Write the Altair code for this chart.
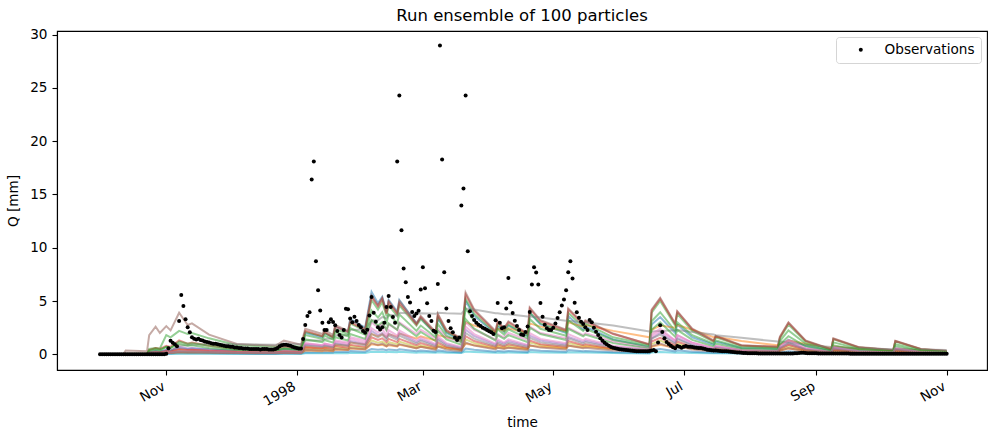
import altair as alt
import pandas as pd

# ---------------------------------------------------------------------------
# Observed discharge Q [mm], one value per day starting 1997-10-01
# ---------------------------------------------------------------------------
obs_1997_10 = [0.0, 0.0, 0.0, 0.0, 0.0, 0.0, 0.0, 0.0, 0.0, 0.0,
               0.0, 0.0, 0.0, 0.0, 0.0, 0.0, 0.0, 0.0, 0.0, 0.0,
               0.0, 0.0, 0.0, 0.0, 0.0, 0.0, 0.0, 0.0, 0.0, 0.0, 0.0]
obs_1997_11 = [0.05, 0.56, 1.27, 1.09, 0.94, 0.75, 3.12, 5.56, 4.53, 3.28,
               2.53, 2.06, 1.6, 1.45, 1.4, 1.45, 1.35, 1.3, 1.2, 1.15,
               1.1, 1.05, 1.0, 1.0, 0.95, 0.9, 0.85, 0.8, 0.75, 0.75]
obs_1997_12 = [0.7, 0.7, 0.65, 0.65, 0.6, 0.6, 0.55, 0.55, 0.55, 0.5,
               0.5, 0.5, 0.5, 0.5, 0.45, 0.5, 0.5, 0.5, 0.45, 0.45,
               0.45, 0.5, 0.6, 0.75, 0.85, 0.9, 0.9, 0.85, 0.8, 0.7, 0.65]
obs_1998_01 = [0.6, 0.55, 0.55, 1.43, 2.75, 3.59, 3.94, 16.4, 18.1, 8.74,
               6.0, 4.12, 2.96, 2.28, 2.28, 3.0, 3.28, 3.03, 2.72, 2.18,
               1.81, 1.59, 2.28, 4.28, 4.22, 3.37, 3.0, 3.53, 3.12, 2.75, 2.53]
obs_1998_02 = [2.18, 2.03, 2.3, 3.65, 5.37, 3.9, 3.06, 2.53, 2.34, 2.53,
               2.96, 4.43, 5.46, 4.43, 3.5, 2.96, 18.1, 24.27, 11.65, 8.06,
               6.75, 5.37, 4.87, 3.96, 3.59, 3.84, 4.09, 6.09]
obs_1998_03 = [8.18, 6.19, 4.78, 3.59, 3.12, 2.21, 2.09, 6.59, 28.96, 18.27,
               7.71, 4.31, 3.12, 2.44, 2.06, 1.59, 1.34, 1.59, 13.96, 15.56,
               24.27, 9.68, 4.03, 3.59, 3.22, 2.96, 2.77, 2.65, 2.49, 2.4, 2.28]
obs_1998_04 = [2.16, 2.06, 1.9, 3.19, 4.81, 2.96, 2.44, 2.53, 4.31, 7.15,
               4.87, 3.87, 3.15, 2.65, 2.28, 1.87, 1.81, 2.09, 2.62, 3.96,
               6.56, 8.18, 7.68, 6.56, 4.81, 3.53, 2.77, 2.44, 2.28, 2.28]
obs_1998_05 = [2.49, 2.9, 3.4, 3.94, 4.59, 5.15, 6.0, 7.71, 8.74, 7.12,
               4.84, 3.94, 3.43, 3.06, 2.84, 2.53, 2.28, 3.22, 3.0, 2.49,
               2.12, 1.81, 1.5, 1.27, 1.09, 0.94, 0.81, 0.68, 0.62, 0.56, 0.53]
obs_1998_06 = [0.47, 0.45, 0.42, 0.4, 0.38, 0.35, 0.33, 0.31, 0.3, 0.28,
               0.28, 0.28, 0.3, 0.3, 0.31, 0.35, 0.4, 0.3, 1.12, 2.72,
               2.09, 1.5, 1.15, 0.97, 0.81, 0.66, 0.56, 0.78, 0.71, 0.62]
obs_1998_07 = [0.7, 0.78, 0.72, 0.7, 0.68, 0.65, 0.62, 0.6, 0.6, 0.55,
               0.5, 0.42, 0.4, 0.38, 0.36, 0.35, 0.33, 0.32, 0.3, 0.3,
               0.28, 0.26, 0.25, 0.22, 0.2, 0.18, 0.16, 0.14, 0.12, 0.12, 0.1]
obs_1998_08 = [0.1, 0.09, 0.09, 0.09, 0.08, 0.08, 0.08, 0.08, 0.08, 0.08,
               0.08, 0.07, 0.07, 0.07, 0.07, 0.07, 0.07, 0.07, 0.07, 0.08,
               0.08, 0.09, 0.1, 0.12, 0.15, 0.14, 0.12, 0.11, 0.1, 0.1, 0.09]
obs_1998_09 = [0.09, 0.08, 0.08, 0.08, 0.08, 0.08, 0.08, 0.08, 0.07, 0.07,
               0.07, 0.07, 0.07, 0.07, 0.07, 0.07, 0.06, 0.06, 0.06, 0.06,
               0.06, 0.06, 0.06, 0.06, 0.06, 0.06, 0.06, 0.06, 0.06, 0.06]
obs_1998_10 = [0.06, 0.06, 0.06, 0.06, 0.06, 0.06, 0.06, 0.06, 0.06, 0.06,
               0.05, 0.05, 0.05, 0.05, 0.05, 0.05, 0.05, 0.05, 0.05, 0.05,
               0.05, 0.05, 0.05, 0.05, 0.05, 0.05, 0.05, 0.05, 0.05, 0.05, 0.05]
obs_1998_11 = [0.05]

# ---------------------------------------------------------------------------
# Particle runs, sampled at the days (since 1997-10-01) listed in knot_days
# ---------------------------------------------------------------------------
knot_days = [0, 11, 12, 22, 23, 26, 28, 31, 33, 37,
             41, 43, 51, 64, 82, 86, 94, 96, 104, 105,
             109, 110, 116, 117, 124, 127, 130, 132, 134, 135,
             139, 140, 148, 150, 157, 158, 162, 169, 171, 175,
             185, 186, 189, 191, 200, 201, 206, 218, 219, 226,
             227, 240, 257, 258, 262, 269, 270, 277, 287, 288,
             300, 317, 318, 322, 330, 342, 343, 355, 371, 372,
             384, 396]

p_blue = [0.0, 0.0, 0.02, 0.02, 0.2, 0.3, 0.25, 0.4, 0.35, 0.6,
          0.5, 0.55, 0.45, 0.35, 0.3, 0.5, 0.4, 2.0, 1.6, 2.0,
          1.6, 2.6, 2.1, 3.3, 2.5, 5.85, 4.8, 5.4, 4.0, 5.1,
          4.0, 5.1, 2.9, 3.4, 1.9, 3.4, 2.0, 1.3, 5.0, 3.6,
          1.9, 2.6, 2.1, 2.7, 1.7, 3.9, 2.8, 2.0, 3.6, 2.3,
          2.6, 1.4, 0.7, 2.8, 3.5, 2.0, 2.8, 1.6, 0.9, 1.2,
          0.6, 0.5, 0.9, 1.35, 0.8, 0.35, 0.7, 0.4, 0.25, 0.55,
          0.3, 0.2]
p_orange = [0.0, 0.0, 0.0, 0.0, 0.1, 0.15, 0.15, 0.25, 0.25, 0.4,
            0.35, 0.4, 0.35, 0.3, 0.25, 0.35, 0.3, 0.7, 0.6, 0.7,
            0.65, 0.9, 0.8, 1.1, 0.95, 1.9, 1.7, 1.9, 1.6, 1.9,
            1.65, 1.95, 1.5, 1.7, 1.3, 1.8, 1.6, 1.3, 3.0, 2.7,
            2.1, 2.4, 2.2, 2.45, 2.0, 2.9, 2.6, 2.2, 3.0, 2.6,
            2.75, 2.2, 1.6, 2.3, 2.7, 2.5, 2.75, 2.3, 1.6, 1.65,
            1.25, 0.85, 0.9, 1.3, 1.0, 0.6, 0.75, 0.5, 0.3, 0.5,
            0.35, 0.25]
p_green = [0.0, 0.0, 0.05, 0.05, 0.5, 0.6, 0.55, 1.8, 1.6, 2.2,
           1.9, 2.0, 1.5, 0.85, 0.7, 0.95, 0.7, 2.1, 1.7, 2.0,
           1.6, 2.4, 1.9, 2.9, 2.2, 5.1, 4.2, 4.9, 3.6, 4.6,
           3.6, 4.6, 2.7, 3.3, 1.9, 3.5, 2.1, 1.4, 5.2, 3.8,
           2.0, 2.8, 2.2, 2.8, 1.75, 3.9, 2.9, 2.1, 3.9, 2.6,
           2.9, 1.6, 0.9, 3.9, 5.0, 2.7, 3.8, 2.2, 1.2, 1.6,
           0.8, 0.65, 1.5, 2.8, 1.2, 0.45, 1.4, 0.63, 0.38, 1.2,
           0.47, 0.3]
p_red = [0.0, 0.0, 0.05, 0.05, 0.4, 0.6, 0.5, 0.8, 0.7, 1.3,
         1.0, 1.1, 0.8, 0.5, 0.4, 0.7, 0.5, 2.2, 1.7, 2.1,
         1.6, 2.6, 2.1, 3.0, 2.3, 5.4, 4.5, 5.2, 3.8, 4.9,
         3.8, 4.8, 2.8, 3.5, 2.0, 3.7, 2.2, 1.45, 5.6, 4.1,
         2.1, 3.0, 2.4, 3.0, 1.9, 4.3, 3.1, 2.25, 4.2, 2.8,
         3.1, 1.9, 0.95, 4.1, 5.2, 2.85, 4.0, 2.35, 1.25, 1.7,
         0.82, 0.7, 1.6, 2.95, 1.25, 0.45, 1.45, 0.65, 0.38, 1.25,
         0.48, 0.32]
p_purple = [0.0, 0.0, 0.01, 0.01, 0.2, 0.3, 0.25, 0.4, 0.35, 0.7,
            0.55, 0.6, 0.45, 0.3, 0.25, 0.35, 0.28, 0.9, 0.75, 0.85,
            0.7, 1.05, 0.85, 1.25, 0.95, 2.2, 1.8, 2.0, 1.55, 1.95,
            1.55, 2.0, 1.15, 1.4, 0.85, 1.5, 0.95, 0.6, 2.3, 1.7,
            0.9, 1.25, 1.0, 1.25, 0.8, 1.75, 1.3, 0.92, 1.65, 1.15,
            1.28, 0.72, 0.38, 1.5, 2.0, 1.1, 1.55, 0.9, 0.5, 0.68,
            0.33, 0.28, 0.65, 1.15, 0.5, 0.2, 0.58, 0.27, 0.16, 0.5,
            0.2, 0.13]
p_brown = [0.0, 0.02, 0.35, 0.3, 1.8, 2.6, 2.0, 2.65, 2.25, 3.9,
           2.75, 2.9, 1.85, 0.97, 0.8, 1.28, 0.9, 2.4, 1.9, 2.3,
           1.8, 2.75, 2.2, 3.2, 2.4, 5.5, 4.6, 5.3, 3.9, 5.0,
           3.9, 5.0, 2.9, 3.6, 2.1, 3.8, 2.3, 1.5, 5.8, 4.2,
           2.2, 3.1, 2.45, 3.1, 1.95, 4.4, 3.2, 2.3, 4.3, 2.9,
           3.2, 1.95, 0.9, 4.2, 5.3, 2.9, 4.05, 2.4, 1.3, 1.75,
           0.85, 0.72, 1.65, 3.0, 1.3, 0.47, 1.5, 0.68, 0.4, 1.28,
           0.5, 0.33]
p_pink = [0.0, 0.0, 0.0, 0.0, 0.08, 0.1, 0.1, 0.2, 0.18, 0.35,
          0.3, 0.35, 0.3, 0.25, 0.2, 0.3, 0.25, 1.0, 0.85, 1.0,
          0.85, 1.3, 1.1, 1.6, 1.3, 3.0, 2.5, 2.9, 2.2, 2.8,
          2.3, 3.0, 1.9, 2.3, 1.5, 2.4, 1.6, 1.15, 3.0, 2.3,
          1.4, 1.9, 1.6, 2.0, 1.35, 2.6, 2.0, 1.5, 2.5, 1.8,
          2.0, 1.2, 0.6, 1.7, 2.2, 1.3, 1.8, 1.1, 0.6, 0.75,
          0.4, 0.3, 0.6, 0.95, 0.55, 0.25, 0.5, 0.3, 0.18, 0.4,
          0.22, 0.15]
p_gray = [0.0, 0.0, 0.02, 0.02, 0.15, 0.2, 0.2, 0.35, 0.35, 0.8,
          0.85, 0.9, 0.95, 0.95, 0.9, 1.0, 0.95, 1.3, 1.3, 1.45,
          1.45, 1.8, 1.8, 2.3, 2.3, 3.2, 3.2, 3.5, 3.4, 3.7,
          3.65, 3.9, 3.8, 3.85, 3.8, 3.9, 3.85, 3.8, 4.3, 4.2,
          3.85, 3.85, 3.75, 3.75, 3.55, 3.55, 3.45, 3.15, 3.15, 3.0,
          3.0, 2.7, 2.15, 2.15, 2.2, 2.25, 2.28, 2.1, 1.85, 1.8,
          1.55, 1.2, 1.2, 1.1, 0.9, 0.68, 0.67, 0.58, 0.48, 0.48,
          0.45, 0.4]
p_olive = [0.0, 0.0, 0.01, 0.01, 0.1, 0.15, 0.12, 0.2, 0.18, 0.35,
           0.3, 0.32, 0.25, 0.18, 0.15, 0.2, 0.17, 0.55, 0.45, 0.52,
           0.42, 0.65, 0.52, 0.75, 0.6, 1.3, 1.1, 1.2, 0.95, 1.15,
           0.95, 1.2, 0.7, 0.85, 0.55, 0.9, 0.6, 0.4, 1.4, 1.05,
           0.6, 0.8, 0.65, 0.8, 0.52, 1.1, 0.85, 0.6, 1.05, 0.75,
           0.82, 0.5, 0.3, 0.95, 1.3, 0.72, 1.0, 0.6, 0.35, 0.45,
           0.25, 0.2, 0.42, 0.75, 0.35, 0.15, 0.38, 0.2, 0.12, 0.32,
           0.15, 0.1]
p_cyan = [0.0, 0.0, 0.0, 0.0, 0.02, 0.03, 0.03, 0.04, 0.04, 0.06,
          0.05, 0.06, 0.05, 0.04, 0.04, 0.05, 0.04, 0.1, 0.09, 0.1,
          0.09, 0.12, 0.11, 0.14, 0.12, 0.25, 0.22, 0.24, 0.2, 0.23,
          0.2, 0.24, 0.16, 0.19, 0.14, 0.2, 0.15, 0.12, 0.26, 0.22,
          0.14, 0.17, 0.15, 0.17, 0.13, 0.21, 0.18, 0.14, 0.2, 0.16,
          0.17, 0.12, 0.08, 0.18, 0.22, 0.14, 0.18, 0.13, 0.09, 0.1,
          0.07, 0.06, 0.09, 0.13, 0.08, 0.05, 0.08, 0.05, 0.04, 0.06,
          0.04, 0.03]
p_blue_2 = [0.0, 0.0, 0.0, 0.0, 0.04, 0.06, 0.05, 0.08, 0.07, 0.12,
            0.1, 0.11, 0.09, 0.07, 0.06, 0.08, 0.07, 0.2, 0.17, 0.2,
            0.17, 0.25, 0.21, 0.3, 0.24, 0.5, 0.43, 0.48, 0.38, 0.46,
            0.38, 0.47, 0.3, 0.36, 0.25, 0.37, 0.26, 0.18, 0.55, 0.42,
            0.25, 0.32, 0.27, 0.32, 0.22, 0.42, 0.33, 0.24, 0.41, 0.3,
            0.32, 0.2, 0.12, 0.38, 0.5, 0.28, 0.38, 0.24, 0.14, 0.18,
            0.1, 0.08, 0.16, 0.28, 0.13, 0.06, 0.15, 0.08, 0.05, 0.12,
            0.06, 0.04]
p_orange_2 = [0.0, 0.0, 0.0, 0.0, 0.05, 0.08, 0.08, 0.12, 0.12, 0.2,
              0.18, 0.2, 0.18, 0.14, 0.12, 0.15, 0.13, 0.35, 0.3, 0.35,
              0.3, 0.45, 0.4, 0.55, 0.45, 0.95, 0.85, 0.9, 0.75, 0.85,
              0.75, 0.9, 0.6, 0.7, 0.5, 0.75, 0.6, 0.45, 1.0, 0.85,
              0.55, 0.65, 0.58, 0.65, 0.5, 0.8, 0.7, 0.55, 0.8, 0.65,
              0.7, 0.5, 0.35, 0.7, 0.9, 0.6, 0.75, 0.55, 0.38, 0.42,
              0.3, 0.25, 0.35, 0.55, 0.35, 0.2, 0.3, 0.22, 0.15, 0.25,
              0.16, 0.12]
p_green_2 = [0.0, 0.0, 0.02, 0.02, 0.3, 0.4, 0.35, 0.7, 0.6, 1.2,
             1.0, 1.05, 0.8, 0.5, 0.4, 0.6, 0.45, 1.4, 1.15, 1.35,
             1.1, 1.6, 1.3, 1.9, 1.45, 3.2, 2.7, 3.0, 2.3, 2.9,
             2.3, 2.9, 1.7, 2.1, 1.25, 2.2, 1.4, 0.9, 3.3, 2.4,
             1.3, 1.8, 1.45, 1.8, 1.15, 2.5, 1.9, 1.35, 2.4, 1.7,
             1.85, 1.05, 0.55, 2.3, 3.0, 1.65, 2.3, 1.35, 0.75, 1.0,
             0.5, 0.4, 0.95, 1.7, 0.75, 0.28, 0.85, 0.4, 0.24, 0.75,
             0.3, 0.2]
p_red_2 = [0.0, 0.0, 0.01, 0.01, 0.15, 0.2, 0.18, 0.3, 0.25, 0.5,
           0.4, 0.42, 0.32, 0.22, 0.18, 0.25, 0.2, 0.65, 0.55, 0.62,
           0.5, 0.78, 0.62, 0.9, 0.7, 1.6, 1.35, 1.5, 1.15, 1.45,
           1.15, 1.45, 0.85, 1.05, 0.65, 1.1, 0.7, 0.45, 1.7, 1.25,
           0.7, 0.95, 0.75, 0.95, 0.6, 1.3, 0.95, 0.7, 1.25, 0.85,
           0.95, 0.55, 0.3, 1.2, 1.55, 0.85, 1.2, 0.7, 0.4, 0.52,
           0.26, 0.22, 0.5, 0.9, 0.4, 0.15, 0.45, 0.2, 0.12, 0.38,
           0.15, 0.1]
p_green_3 = [0.0, 0.0, 0.02, 0.02, 0.4, 0.55, 0.45, 0.7, 0.6, 1.0,
             0.8, 0.85, 0.6, 0.4, 0.35, 0.5, 0.4, 1.8, 1.45, 1.75,
             1.4, 2.1, 1.7, 2.45, 1.85, 4.1, 3.45, 3.95, 2.95, 3.75,
             2.95, 3.75, 2.2, 2.7, 1.6, 2.85, 1.75, 1.15, 4.3, 3.15,
             1.7, 2.35, 1.85, 2.35, 1.5, 3.3, 2.4, 1.75, 3.2, 2.2,
             2.4, 1.35, 0.75, 3.1, 3.95, 2.2, 3.0, 1.8, 1.0, 1.3,
             0.65, 0.55, 1.25, 2.25, 1.0, 0.36, 1.12, 0.52, 0.3, 0.95,
             0.38, 0.25]
p_brown_2 = [0.0, 0.0, 0.01, 0.01, 0.08, 0.12, 0.1, 0.15, 0.13, 0.25,
             0.2, 0.22, 0.17, 0.12, 0.1, 0.14, 0.11, 0.42, 0.35, 0.4,
             0.33, 0.5, 0.42, 0.6, 0.47, 1.05, 0.88, 1.0, 0.76, 0.95,
             0.76, 0.96, 0.56, 0.7, 0.42, 0.72, 0.46, 0.3, 1.1, 0.82,
             0.46, 0.62, 0.5, 0.62, 0.4, 0.85, 0.63, 0.46, 0.83, 0.57,
             0.62, 0.36, 0.2, 0.78, 1.02, 0.56, 0.78, 0.45, 0.26, 0.34,
             0.17, 0.14, 0.32, 0.58, 0.26, 0.1, 0.3, 0.13, 0.08, 0.25,
             0.1, 0.07]
p_pink_2 = [0.0, 0.0, 0.0, 0.0, 0.1, 0.15, 0.12, 0.2, 0.18, 0.32,
            0.28, 0.3, 0.24, 0.18, 0.15, 0.2, 0.16, 1.05, 0.85, 1.0,
            0.8, 1.2, 0.98, 1.45, 1.1, 2.45, 2.05, 2.35, 1.75, 2.25,
            1.75, 2.25, 1.3, 1.6, 0.95, 1.7, 1.05, 0.68, 2.6, 1.9,
            1.0, 1.4, 1.1, 1.4, 0.88, 2.0, 1.45, 1.05, 1.9, 1.3,
            1.45, 0.8, 0.45, 1.9, 2.4, 1.3, 1.8, 1.08, 0.58, 0.8,
            0.38, 0.32, 0.75, 1.35, 0.58, 0.21, 0.68, 0.3, 0.18, 0.58,
            0.22, 0.15]
p_gray_2 = [0.0, 0.0, 0.0, 0.0, 0.1, 0.14, 0.12, 0.18, 0.16, 0.3,
            0.25, 0.27, 0.21, 0.15, 0.13, 0.17, 0.14, 0.82, 0.68, 0.8,
            0.64, 0.95, 0.78, 1.12, 0.85, 1.92, 1.6, 1.85, 1.37, 1.75,
            1.37, 1.75, 1.0, 1.26, 0.74, 1.33, 0.8, 0.52, 2.0, 1.47,
            0.77, 1.08, 0.86, 1.08, 0.68, 1.54, 1.12, 0.8, 1.5, 1.0,
            1.12, 0.63, 0.35, 1.47, 1.85, 1.0, 1.42, 0.84, 0.45, 0.62,
            0.3, 0.25, 0.58, 1.05, 0.45, 0.16, 0.52, 0.24, 0.14, 0.45,
            0.17, 0.12]

# particle name -> (values, line colour from the tab10 cycle)
particles = [
    ("p00", p_blue, "#1f77b4"),
    ("p01", p_orange, "#ff7f0e"),
    ("p02", p_green, "#2ca02c"),
    ("p03", p_red, "#d62728"),
    ("p04", p_purple, "#9467bd"),
    ("p05", p_brown, "#8c564b"),
    ("p06", p_pink, "#e377c2"),
    ("p07", p_gray, "#7f7f7f"),
    ("p08", p_olive, "#bcbd22"),
    ("p09", p_cyan, "#17becf"),
    ("p10", p_blue_2, "#1f77b4"),
    ("p11", p_orange_2, "#ff7f0e"),
    ("p12", p_green_2, "#2ca02c"),
    ("p13", p_red_2, "#d62728"),
    ("p14", p_green_3, "#2ca02c"),
    ("p15", p_brown_2, "#8c564b"),
    ("p16", p_pink_2, "#e377c2"),
    ("p17", p_gray_2, "#7f7f7f"),
]

start = pd.Timestamp("1997-10-01")

rows = []
for name, values, _ in particles:
    assert len(values) == len(knot_days), name
    for d, v in zip(knot_days, values):
        rows.append({"particle": name, "time": start + pd.Timedelta(days=d), "Q": v})
ens_df = pd.DataFrame(rows)

obs_values = (obs_1997_10 + obs_1997_11 + obs_1997_12 + obs_1998_01 + obs_1998_02
              + obs_1998_03 + obs_1998_04 + obs_1998_05 + obs_1998_06 + obs_1998_07
              + obs_1998_08 + obs_1998_09 + obs_1998_10 + obs_1998_11)
obs_df = pd.DataFrame({
    "time": pd.date_range(start, periods=len(obs_values), freq="D"),
    "Q": obs_values,
    "series": "Observations",
})

FONT = "DejaVu Sans"

x_scale = alt.Scale(domain=[
    alt.DateTime(year=1997, month=9, date=10, hours=21, minutes=7),
    alt.DateTime(year=1998, month=11, date=19, hours=20, minutes=38),
])
y_scale = alt.Scale(domain=[-1.47, 30.33], nice=False, zero=False)

tick_dates = [
    alt.DateTime(year=1997, month=11, date=1),
    alt.DateTime(year=1998, month=1, date=1),
    alt.DateTime(year=1998, month=3, date=1),
    alt.DateTime(year=1998, month=5, date=1),
    alt.DateTime(year=1998, month=7, date=1),
    alt.DateTime(year=1998, month=9, date=1),
    alt.DateTime(year=1998, month=11, date=1),
]

x_enc = alt.X(
    "time:T", scale=x_scale, title="time",
    axis=alt.Axis(
        values=tick_dates, grid=False,
        labelExpr="month(datum.value) == 0 ? timeFormat(datum.value, '%Y') : timeFormat(datum.value, '%b')",
        labelAngle=-30, labelAlign="right", labelBaseline="top",
        labelOffset=-6, labelPadding=4, tickSize=5,
        titleY=56.5, titleBaseline="alphabetic",
    ),
)
y_enc = alt.Y(
    "Q:Q", scale=y_scale, title="Q [mm]",
    axis=alt.Axis(values=[0, 5, 10, 15, 20, 25, 30], grid=False, tickSize=5,
                  labelPadding=5, titlePadding=9),
)

lines = alt.Chart(ens_df).mark_line(strokeWidth=2, strokeOpacity=0.5).encode(
    x=x_enc,
    y=y_enc,
    stroke=alt.Stroke(
        "particle:N",
        scale=alt.Scale(domain=[p[0] for p in particles], range=[p[2] for p in particles]),
        legend=None,
    ),
)

points = alt.Chart(obs_df).mark_circle(size=16, opacity=1).encode(
    x=alt.X("time:T", scale=x_scale),
    y=alt.Y("Q:Q", scale=y_scale),
    color=alt.Color(
        "series:N",
        scale=alt.Scale(domain=["Observations"], range=["black"]),
        legend=alt.Legend(
            title=None, orient="top-right", offset=6, padding=6,
            symbolType="circle", symbolSize=16, symbolOffset=12,
            labelOffset=17, labelFontSize=13.6, labelFont=FONT,
            labelColor="black", strokeColor="#d5d5d5", cornerRadius=3,
            fillColor="white",
        ),
    ),
)

chart = alt.layer(lines, points).properties(
    width=930,
    height=339,
    background="white",
    title=alt.TitleParams(
        "Run ensemble of 100 particles", fontSize=16.5, font=FONT,
        fontWeight="normal", anchor="middle", baseline="alphabetic",
        offset=8, dy=18, color="black",
    ),
    autosize=alt.AutoSizeParams(type="none"),
    padding={"left": 57, "top": 31, "right": 10, "bottom": 69},
).configure_view(
    stroke="black", strokeWidth=1.1,
).configure_axis(
    grid=False, domainColor="black", tickColor="black", labelColor="black",
    titleColor="black", labelFont=FONT, titleFont=FONT, labelFontSize=13.6,
    titleFontSize=13.6, titleFontWeight="normal", domainWidth=1.1, tickWidth=1.1,
)

chart.save("out.html", embed_options={"renderer": "svg", "actions": False})
